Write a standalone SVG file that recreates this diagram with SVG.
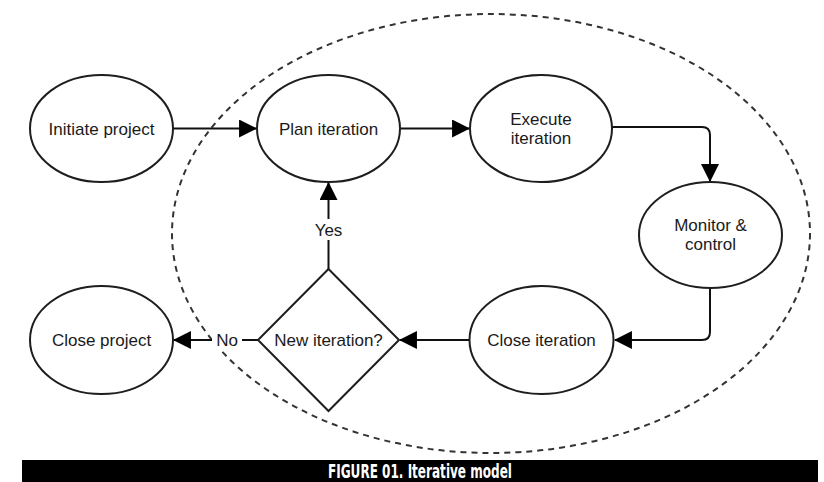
<svg xmlns="http://www.w3.org/2000/svg" width="824" height="482" viewBox="0 0 824 482">
<defs>
<style>
.node{fill:#fff;stroke:#1e1e1e;stroke-width:2}
.t{font-family:"Liberation Sans",Arial,sans-serif;font-size:17px;fill:#1a1a1a;text-anchor:middle}
.edge{fill:none;stroke:#111;stroke-width:2}
.lbl{fill:#fff;stroke:none}
</style>
<marker id="ah" markerUnits="userSpaceOnUse" markerWidth="18" markerHeight="18" viewBox="0 0 17 17" refX="16" refY="8.5" orient="auto">
<path d="M0,0 L17,8.5 L0,17 z" fill="#000"/>
</marker>
</defs>
<rect width="824" height="482" fill="#fff"/>
<ellipse id="iteration-boundary" cx="491" cy="233.5" rx="319" ry="219.5" fill="none" stroke="#333" stroke-width="2" stroke-dasharray="6,5"/>
<g id="connectors">
<path class="edge" d="M173,128.5 H256" marker-end="url(#ah)"/>
<path class="edge" d="M400,128.5 H469" marker-end="url(#ah)"/>
<path class="edge" d="M612,127 H702 Q710,127 710,135 V181" marker-end="url(#ah)"/>
<path class="edge" d="M710,288 V332 Q710,340 702,340 H615" marker-end="url(#ah)"/>
<path class="edge" d="M469,340 H400" marker-end="url(#ah)"/>
<path class="edge" d="M328.5,269 V183" marker-end="url(#ah)"/>
<path class="edge" d="M258,340 H174" marker-end="url(#ah)"/>
<rect class="lbl" x="312" y="219" width="33" height="21"/>
<text class="t" x="328.5" y="235.5">Yes</text>
<rect class="lbl" x="212" y="330" width="30" height="21"/>
<text class="t" x="227" y="346">No</text>
</g>
<g id="initiate-project">
<ellipse class="node" cx="101.5" cy="128.5" rx="71.5" ry="53.5"/>
<text class="t" x="101.5" y="134.5">Initiate project</text>
</g>
<g id="plan-iteration">
<ellipse class="node" cx="328.5" cy="128.5" rx="71.5" ry="53.5"/>
<text class="t" x="328.5" y="134.5">Plan iteration</text>
</g>
<g id="execute-iteration">
<ellipse class="node" cx="541" cy="128.5" rx="71" ry="53.5"/>
<text class="t" x="541" y="124.5">Execute</text>
<text class="t" x="541" y="143.5">iteration</text>
</g>
<g id="monitor-control">
<ellipse class="node" cx="710.5" cy="235" rx="71.5" ry="53"/>
<text class="t" x="710.5" y="231">Monitor &amp;</text>
<text class="t" x="710.5" y="250">control</text>
</g>
<g id="close-iteration">
<ellipse class="node" cx="541.5" cy="340" rx="72" ry="54"/>
<text class="t" x="541.5" y="346">Close iteration</text>
</g>
<g id="new-iteration">
<polygon class="node" points="328.5,269 399,340 328.5,411 258,340"/>
<text class="t" x="328.5" y="346">New iteration?</text>
</g>
<g id="close-project">
<ellipse class="node" cx="101.5" cy="340" rx="71.5" ry="54"/>
<text class="t" x="101.5" y="346">Close project</text>
</g>
<g id="caption">
<rect x="22" y="460" width="796" height="22" fill="#000"/>
<text x="420" y="478" fill="#fff" text-anchor="middle" font-family="'DejaVu Sans Condensed','Liberation Sans Narrow','Liberation Sans',sans-serif" font-weight="bold" font-size="20" textLength="184" lengthAdjust="spacingAndGlyphs">FIGURE 01. Iterative model</text>
</g>
</svg>
